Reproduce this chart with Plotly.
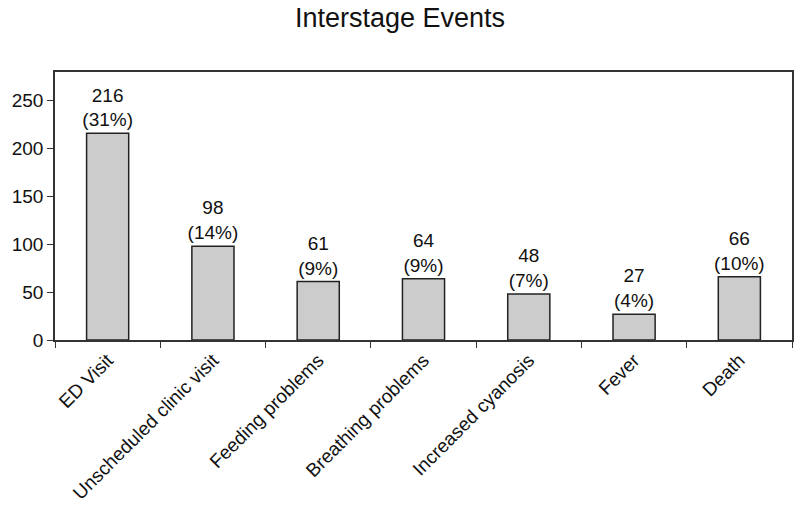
import plotly.graph_objects as go

categories = ["ED Visit", "Unscheduled clinic visit", "Feeding problems",
              "Breathing problems", "Increased cyanosis", "Fever", "Death"]
counts = [216, 98, 61, 64, 48, 27, 66]
percents = [31, 14, 9, 9, 7, 4, 10]
y_ticks = [0, 50, 100, 150, 200, 250]

labels = [f"{c}<br>({p}%)" for c, p in zip(counts, percents)]

FONT = "Liberation Sans, Arial"
TXT = "#111111"

W, H = 800, 509

fig = go.Figure(go.Bar(
    x=categories, y=counts, text=labels, textposition="outside",
    textfont=dict(size=19, color=TXT, family=FONT),
    marker=dict(color="#cccccc", line=dict(color="#222222", width=1.5)),
    cliponaxis=False, constraintext="none", hoverinfo="skip",
))

fig.update_layout(
    width=W, height=H,
    margin=dict(l=55, r=8, t=72, b=169),
    paper_bgcolor="white", plot_bgcolor="white",
    bargap=0.6,
    showlegend=False,
    title=dict(text="Interstage Events", x=0.5, xanchor="center",
               y=1 - 17.5 / H, yanchor="middle", yref="container",
               font=dict(size=27, color=TXT, family=FONT)),
    font=dict(family=FONT, color=TXT),
)
fig.update_xaxes(
    tickangle=-45, tickfont=dict(size=19, color=TXT),
    showline=True, linecolor="#333333", linewidth=1.5, mirror=True,
    ticks="outside", tickson="boundaries", ticklen=6, tickcolor="#333333",
    showgrid=False, automargin=False,
)
fig.update_yaxes(
    range=[0, 280], tickvals=y_ticks, tickfont=dict(size=19, color=TXT),
    showline=True, linecolor="#333333", linewidth=1.5, mirror=True,
    ticks="outside", ticklen=6, tickcolor="#333333",
    showgrid=False, zeroline=False, automargin=False,
)

# remove the browser's default 8px body margin so the figure fills the window
fig.write_html("out.html", config={"displayModeBar": False},
               post_script="document.body.style.margin='0';document.body.style.overflow='hidden';")
